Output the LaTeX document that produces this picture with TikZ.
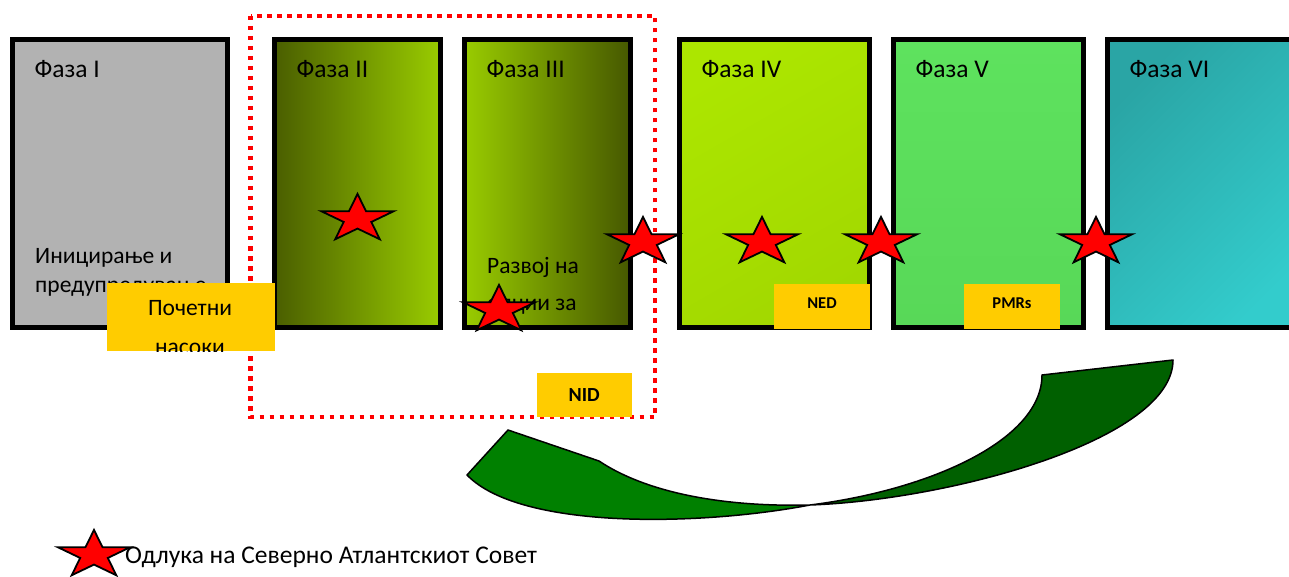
\documentclass[tikz,border=0pt]{standalone}
\usepackage{fontspec}
\setmainfont{Carlito}
\usetikzlibrary{shapes.geometric}

\definecolor{siva}{HTML}{B2B2B2}
\definecolor{maslina}{HTML}{4A5E00}
\definecolor{maslinb}{HTML}{465800}
\definecolor{limeta}{HTML}{99CC00}
\definecolor{zelkaa}{HTML}{ACE600}
\definecolor{zelkab}{HTML}{B8F800}
\definecolor{zelkac}{HTML}{A2D800}
\definecolor{trevaa}{HTML}{5EE25E}
\definecolor{trevab}{HTML}{6CFC6C}
\definecolor{trevac}{HTML}{58D858}
\definecolor{tirkiza}{HTML}{2AA5A5}
\definecolor{tirkizb}{HTML}{33CCCC}
\definecolor{zolto}{HTML}{FFCC00}
\definecolor{svetlozelena}{HTML}{008000}
\definecolor{temnozelena}{HTML}{006000}

\tikzset{
  faza/.style={draw=black, line width=5pt, anchor=north west, inner sep=0pt, outer sep=0pt, minimum height=288pt},
  naslov/.style={anchor=base west, inner sep=0pt, font=\fontsize{23.5}{28}\selectfont},
  glaven/.style={naslov, font=\fontsize{25.5}{30}\selectfont},
  zolta/.style={fill=zolto, anchor=north west, inner sep=0pt, outer sep=0pt},
  odluka/.style={star, star points=5, star point ratio=2.618, draw=black, line width=1.8pt, fill=red, minimum size=76pt, inner sep=0pt, yscale=0.66},
  tocki/.style={draw=red, line width=4.5pt, dash pattern=on 4.5pt off 5.5pt},
  strelka/.style={draw=black, line width=1.5pt, fill=svetlozelena, line join=round},
}

\begin{document}
\begin{tikzpicture}[x=1pt, y=-1pt]
  \useasboundingbox (0,0) rectangle (1289,577);

  % fazi
  \draw (12.5,39.5)   node (f1) [faza, minimum width=215pt, fill=siva] {};
  \draw (274.5,39.5)  node (f2) [faza, minimum width=166pt, left color=maslina, right color=limeta] {};
  \draw (464.5,39.5)  node (f3) [faza, minimum width=166pt, left color=limeta, right color=maslinb] {};
  \draw (679.5,39.5)  node (f4) [faza, minimum width=190pt, top color=zelkaa, middle color=zelkab, bottom color=zelkac, shading angle=30] {};
  \draw (893.5,39.5)  node (f5) [faza, minimum width=190pt, top color=trevaa, middle color=trevab, bottom color=trevac] {};
  \draw (1107.5,39.5) node (f6) [faza, minimum width=200pt, top color=tirkiza, bottom color=tirkizb, shading angle=45] {};

  \draw ([shift={(22pt,-38.5pt)}]f1.north west) node (n1) [glaven] {Фаза I};
  \draw ([shift={(22pt,-38.5pt)}]f2.north west) node (n2) [glaven] {Фаза II};
  \draw ([shift={(22pt,-38.5pt)}]f3.north west) node (n3) [glaven] {Фаза III};
  \draw ([shift={(22pt,-38.5pt)}]f4.north west) node (n4) [glaven] {Фаза IV};
  \draw ([shift={(22pt,-38.5pt)}]f5.north west) node (n5) [glaven] {Фаза V};
  \draw ([shift={(22pt,-38.5pt)}]f6.north west) node (n6) [glaven] {Фаза VI};

  \draw (35,263)  node (t1) [naslov] {Иницирање и};
  \draw (35,292)  node (t2) [naslov] {предупредување};
  \draw (487,273) node (t3) [naslov] {Развој на};
  \draw (487,310) node (t4) [naslov] {опции за};

  % isprekinata ramka
  \draw[tocki] (250.5,16) rectangle (655,417);

  % zolti kutii
  \draw (107,283) node (pocetni) [zolta, minimum width=168pt, minimum height=68pt] {};
  \begin{scope}
    \clip (pocetni.north west) rectangle (pocetni.south east);
    \draw (190,315) node (p1) [naslov, anchor=base] {Почетни};
    \draw (190,354) node (p2) [naslov, anchor=base] {насоки};
  \end{scope}
  \draw (774,284)   node (ned)  [zolta, minimum width=96pt, minimum height=45pt, text depth=7pt, font=\bfseries\fontsize{16.5}{20}\selectfont] {NED};
  \draw (964,284)   node (pmr)  [zolta, minimum width=96pt, minimum height=45pt, text depth=7pt, font=\bfseries\fontsize{16.5}{20}\selectfont] {PMRs};
  \draw (536.5,373) node (nid)  [zolta, minimum width=95.5pt, minimum height=44pt, font=\bfseries\fontsize{20}{24}\selectfont] {NID};

  % odluki
  \draw (357.5,219) node (z1) [odluka] {};
  \draw (643,242)   node (z2) [odluka] {};
  \draw (762,242)   node (z3) [odluka] {};
  \draw (881,242)   node (z4) [odluka] {};
  \draw (1096,242)  node (z5) [odluka] {};
  \draw (499,310)   node (z6) [odluka] {};

  % strelka
  \draw[strelka, path picture={\fill[temnozelena] (810,300) rectangle (1200,540);}]
    (508,430) -- (599,461) .. controls (650,495) and (730,507) .. (810,505)
    .. controls (950,500) and (1173,440) .. (1173,360) -- (1042,375)
    .. controls (1042,440) and (930,490) .. (810,505)
    .. controls (700,526) and (520,530) .. (467,475) -- cycle;

  % legenda
  \draw (94,555)  node (z7) [odluka] {};
  \draw (125,563) node (legenda) [naslov, font=\fontsize{25.5}{30}\selectfont] {Одлука на Северно Атлантскиот Совет};
\end{tikzpicture}
\end{document}
